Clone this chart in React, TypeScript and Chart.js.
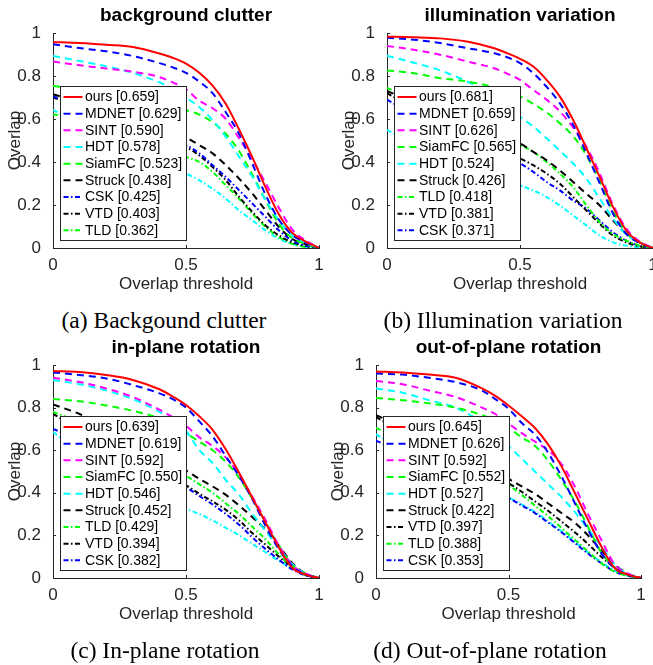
import React, { useEffect, useRef } from 'react';
import { Chart, registerables } from 'chart.js';

Chart.register(...registerables);

// ---------- shared axes ----------
const THRESHOLDS = [0, 0.1, 0.2, 0.3, 0.4, 0.45, 0.5, 0.55, 0.6, 0.65, 0.7, 0.75, 0.8, 0.85, 0.9, 0.95, 1];
const X_TICKS = [0, 0.5, 1];
const X_TICK_LABELS = ['0', '0.5', '1'];
const Y_TICKS = [0, 0.2, 0.4, 0.6, 0.8, 1];
const Y_TICK_LABELS = ['0', '0.2', '0.4', '0.6', '0.8', '1'];
const X_TITLE = 'Overlap threshold';
const Y_TITLE = 'Overlap';

// ---------- (a) background clutter ----------
const BC_TITLE = 'background clutter';
const BC_CAPTION = '(a) Backgound clutter';
const BC_TRACKERS = ['ours', 'MDNET', 'SINT', 'HDT', 'SiamFC', 'Struck', 'CSK', 'VTD', 'TLD'];
const BC_SCORES = [0.659, 0.629, 0.59, 0.578, 0.523, 0.438, 0.425, 0.403, 0.362];
const BC_OURS = [0.958, 0.953, 0.945, 0.935, 0.905, 0.885, 0.858, 0.815, 0.755, 0.67, 0.55, 0.42, 0.28, 0.155, 0.07, 0.03, 0];
const BC_MDNET = [0.948, 0.93, 0.915, 0.893, 0.86, 0.84, 0.815, 0.774, 0.72, 0.63, 0.53, 0.39, 0.245, 0.13, 0.06, 0.025, 0];
const BC_SINT = [0.868, 0.85, 0.835, 0.82, 0.795, 0.77, 0.738, 0.685, 0.65, 0.6, 0.51, 0.41, 0.3, 0.185, 0.085, 0.035, 0];
const BC_HDT = [0.893, 0.87, 0.845, 0.815, 0.77, 0.74, 0.7, 0.655, 0.595, 0.517, 0.424, 0.33, 0.221, 0.128, 0.058, 0.026, 0];
const BC_SIAMFC = [0.754, 0.74, 0.725, 0.71, 0.685, 0.665, 0.642, 0.62, 0.585, 0.53, 0.45, 0.34, 0.22, 0.11, 0.045, 0.02, 0];
const BC_STRUCK = [0.715, 0.68, 0.645, 0.6, 0.555, 0.535, 0.514, 0.478, 0.44, 0.385, 0.322, 0.252, 0.174, 0.097, 0.042, 0.019, 0];
const BC_CSK = [0.705, 0.665, 0.62, 0.575, 0.525, 0.5, 0.478, 0.44, 0.385, 0.33, 0.268, 0.206, 0.143, 0.081, 0.034, 0.011, 0];
const BC_VTD = [0.7, 0.66, 0.615, 0.565, 0.52, 0.495, 0.47, 0.43, 0.377, 0.315, 0.237, 0.167, 0.104, 0.058, 0.026, 0.01, 0];
const BC_TLD = [0.622, 0.6, 0.56, 0.52, 0.47, 0.447, 0.424, 0.4, 0.354, 0.291, 0.229, 0.159, 0.097, 0.05, 0.019, 0.005, 0];
const BC_OTHER = [0.642, 0.58, 0.51, 0.44, 0.39, 0.368, 0.346, 0.315, 0.276, 0.229, 0.174, 0.128, 0.081, 0.042, 0.019, 0.005, 0];

// ---------- (b) illumination variation ----------
const IV_TITLE = 'illumination variation';
const IV_CAPTION = '(b) Illumination variation';
const IV_TRACKERS = ['ours', 'MDNET', 'SINT', 'SiamFC', 'HDT', 'Struck', 'TLD', 'VTD', 'CSK'];
const IV_SCORES = [0.681, 0.659, 0.626, 0.565, 0.524, 0.426, 0.418, 0.381, 0.371];
const IV_OURS = [0.983, 0.98, 0.975, 0.96, 0.93, 0.907, 0.88, 0.844, 0.782, 0.704, 0.595, 0.463, 0.33, 0.19, 0.081, 0.026, 0];
const IV_MDNET = [0.978, 0.969, 0.953, 0.93, 0.907, 0.888, 0.86, 0.813, 0.75, 0.673, 0.572, 0.44, 0.3, 0.159, 0.065, 0.023, 0];
const IV_SINT = [0.94, 0.922, 0.899, 0.868, 0.837, 0.812, 0.782, 0.735, 0.69, 0.635, 0.56, 0.47, 0.345, 0.2, 0.09, 0.03, 0];
const IV_SIAMFC = [0.826, 0.813, 0.79, 0.775, 0.748, 0.728, 0.705, 0.67, 0.63, 0.58, 0.52, 0.43, 0.31, 0.17, 0.07, 0.025, 0];
const IV_HDT = [0.894, 0.862, 0.826, 0.775, 0.71, 0.66, 0.61, 0.565, 0.51, 0.452, 0.393, 0.322, 0.229, 0.136, 0.062, 0.026, 0];
const IV_STRUCK = [0.73, 0.68, 0.63, 0.58, 0.53, 0.508, 0.486, 0.447, 0.408, 0.361, 0.307, 0.252, 0.198, 0.128, 0.065, 0.026, 0];
const IV_TLD = [0.745, 0.69, 0.635, 0.58, 0.53, 0.505, 0.48, 0.447, 0.4, 0.346, 0.283, 0.198, 0.12, 0.065, 0.034, 0.011, 0];
const IV_VTD = [0.72, 0.65, 0.58, 0.52, 0.46, 0.438, 0.416, 0.385, 0.346, 0.299, 0.237, 0.174, 0.112, 0.058, 0.026, 0.008, 0];
const IV_CSK = [0.69, 0.62, 0.55, 0.49, 0.44, 0.415, 0.393, 0.354, 0.307, 0.268, 0.221, 0.182, 0.128, 0.073, 0.034, 0.01, 0];
const IV_OTHER = [0.55, 0.48, 0.42, 0.37, 0.33, 0.31, 0.291, 0.268, 0.237, 0.198, 0.151, 0.104, 0.058, 0.026, 0.011, 0.003, 0];

// ---------- (c) in-plane rotation ----------
const IPR_TITLE = 'in-plane rotation';
const IPR_CAPTION = '(c) In-plane rotation';
const IPR_TRACKERS = ['ours', 'MDNET', 'SINT', 'SiamFC', 'HDT', 'Struck', 'TLD', 'VTD', 'CSK'];
const IPR_SCORES = [0.639, 0.619, 0.592, 0.55, 0.546, 0.452, 0.429, 0.394, 0.382];
const IPR_OURS = [0.972, 0.967, 0.953, 0.93, 0.886, 0.852, 0.812, 0.759, 0.696, 0.603, 0.493, 0.376, 0.258, 0.141, 0.047, 0.016, 0];
const IPR_MDNET = [0.965, 0.953, 0.937, 0.906, 0.867, 0.84, 0.8, 0.735, 0.665, 0.571, 0.477, 0.368, 0.243, 0.133, 0.055, 0.016, 0];
const IPR_SINT = [0.94, 0.92, 0.89, 0.85, 0.79, 0.755, 0.715, 0.66, 0.62, 0.565, 0.485, 0.38, 0.27, 0.15, 0.06, 0.02, 0];
const IPR_SIAMFC = [0.84, 0.83, 0.81, 0.785, 0.75, 0.72, 0.68, 0.64, 0.6, 0.545, 0.47, 0.37, 0.26, 0.15, 0.06, 0.02, 0];
const IPR_HDT = [0.93, 0.91, 0.88, 0.84, 0.78, 0.74, 0.69, 0.6, 0.54, 0.46, 0.39, 0.3, 0.22, 0.14, 0.065, 0.02, 0];
const IPR_STRUCK = [0.815, 0.77, 0.71, 0.64, 0.57, 0.535, 0.505, 0.465, 0.43, 0.39, 0.34, 0.285, 0.225, 0.15, 0.07, 0.02, 0];
const IPR_TLD = [0.78, 0.73, 0.67, 0.6, 0.53, 0.505, 0.48, 0.44, 0.4, 0.35, 0.3, 0.24, 0.18, 0.11, 0.05, 0.015, 0];
const IPR_VTD = [0.77, 0.7, 0.63, 0.56, 0.49, 0.46, 0.435, 0.395, 0.36, 0.32, 0.27, 0.21, 0.155, 0.1, 0.05, 0.015, 0];
const IPR_CSK = [0.7, 0.65, 0.59, 0.53, 0.47, 0.445, 0.425, 0.385, 0.345, 0.3, 0.25, 0.19, 0.135, 0.085, 0.04, 0.012, 0];
const IPR_OTHER = [0.685, 0.6, 0.52, 0.45, 0.38, 0.35, 0.325, 0.3, 0.27, 0.235, 0.2, 0.16, 0.12, 0.08, 0.045, 0.015, 0];

// ---------- (d) out-of-plane rotation ----------
const OPR_TITLE = 'out-of-plane rotation';
const OPR_CAPTION = '(d) Out-of-plane rotation';
const OPR_TRACKERS = ['ours', 'MDNET', 'SINT', 'SiamFC', 'HDT', 'Struck', 'VTD', 'TLD', 'CSK'];
const OPR_SCORES = [0.645, 0.626, 0.592, 0.552, 0.527, 0.422, 0.397, 0.388, 0.353];
const OPR_OURS = [0.97, 0.965, 0.955, 0.94, 0.89, 0.855, 0.81, 0.759, 0.704, 0.626, 0.524, 0.4, 0.274, 0.149, 0.047, 0.016, 0];
const OPR_MDNET = [0.96, 0.955, 0.94, 0.92, 0.88, 0.84, 0.795, 0.728, 0.673, 0.587, 0.477, 0.352, 0.227, 0.117, 0.047, 0.015, 0];
const OPR_SINT = [0.925, 0.91, 0.88, 0.85, 0.8, 0.77, 0.725, 0.68, 0.64, 0.6, 0.535, 0.43, 0.3, 0.18, 0.065, 0.02, 0];
const OPR_SIAMFC = [0.845, 0.835, 0.82, 0.8, 0.765, 0.74, 0.705, 0.66, 0.62, 0.55, 0.46, 0.36, 0.24, 0.12, 0.05, 0.015, 0];
const OPR_HDT = [0.89, 0.87, 0.835, 0.8, 0.73, 0.68, 0.62, 0.56, 0.5, 0.44, 0.38, 0.31, 0.23, 0.15, 0.065, 0.02, 0];
const OPR_STRUCK = [0.765, 0.71, 0.65, 0.59, 0.53, 0.495, 0.465, 0.43, 0.395, 0.35, 0.305, 0.26, 0.2, 0.13, 0.065, 0.02, 0];
const OPR_VTD = [0.755, 0.69, 0.63, 0.57, 0.5, 0.47, 0.445, 0.405, 0.36, 0.315, 0.265, 0.215, 0.16, 0.1, 0.05, 0.015, 0];
const OPR_TLD = [0.705, 0.65, 0.6, 0.545, 0.49, 0.46, 0.435, 0.39, 0.34, 0.29, 0.235, 0.18, 0.125, 0.07, 0.03, 0.01, 0];
const OPR_CSK = [0.645, 0.59, 0.53, 0.475, 0.42, 0.395, 0.375, 0.34, 0.305, 0.26, 0.215, 0.165, 0.115, 0.07, 0.03, 0.01, 0];
const OPR_OTHER = [0.675, 0.6, 0.53, 0.47, 0.42, 0.398, 0.378, 0.345, 0.31, 0.265, 0.22, 0.17, 0.12, 0.075, 0.035, 0.012, 0];

// ---------- styles ----------
const DASH = [7, 5];
const DASHDOT = [5, 2.5, 1.5, 2.5];
const STYLES: Record<string, { color: string; dash: number[] }> = {
  ours: { color: '#ff0000', dash: [] },
  MDNET: { color: '#0000ff', dash: DASH },
  SINT: { color: '#ff00ff', dash: DASH },
  HDT: { color: '#00ffff', dash: DASH },
  SiamFC: { color: '#00ff00', dash: DASH },
  Struck: { color: '#000000', dash: DASH },
  CSK: { color: '#0000ff', dash: DASHDOT },
  VTD: { color: '#000000', dash: DASHDOT },
  TLD: { color: '#00ff00', dash: DASHDOT },
  other: { color: '#00ffff', dash: DASHDOT },
};

const SANS = '"Liberation Sans", Arial, Helvetica, sans-serif';
const SERIF = '"Liberation Serif", "Times New Roman", serif';
const AXIS_COLOR = '#262626';

type PanelCfg = {
  title: string;
  caption: string;
  trackers: string[];
  scores: number[];
  series: Record<string, number[]>;
  caLeft: number;
  caTop: number;
  plotW: number;
  plotH: number;
  capCx: number;
};

const PANELS: PanelCfg[] = [
  {
    title: BC_TITLE, caption: BC_CAPTION, trackers: BC_TRACKERS, scores: BC_SCORES,
    series: { ours: BC_OURS, MDNET: BC_MDNET, SINT: BC_SINT, HDT: BC_HDT, SiamFC: BC_SIAMFC, Struck: BC_STRUCK, CSK: BC_CSK, VTD: BC_VTD, TLD: BC_TLD, other: BC_OTHER },
    caLeft: 53, caTop: 33, plotW: 266, plotH: 215, capCx: 164,
  },
  {
    title: IV_TITLE, caption: IV_CAPTION, trackers: IV_TRACKERS, scores: IV_SCORES,
    series: { ours: IV_OURS, MDNET: IV_MDNET, SINT: IV_SINT, SiamFC: IV_SIAMFC, HDT: IV_HDT, Struck: IV_STRUCK, TLD: IV_TLD, VTD: IV_VTD, CSK: IV_CSK, other: IV_OTHER },
    caLeft: 387, caTop: 33, plotW: 266, plotH: 215, capCx: 503,
  },
  {
    title: IPR_TITLE, caption: IPR_CAPTION, trackers: IPR_TRACKERS, scores: IPR_SCORES,
    series: { ours: IPR_OURS, MDNET: IPR_MDNET, SINT: IPR_SINT, SiamFC: IPR_SIAMFC, HDT: IPR_HDT, Struck: IPR_STRUCK, TLD: IPR_TLD, VTD: IPR_VTD, CSK: IPR_CSK, other: IPR_OTHER },
    caLeft: 53, caTop: 365, plotW: 266, plotH: 213, capCx: 165,
  },
  {
    title: OPR_TITLE, caption: OPR_CAPTION, trackers: OPR_TRACKERS, scores: OPR_SCORES,
    series: { ours: OPR_OURS, MDNET: OPR_MDNET, SINT: OPR_SINT, SiamFC: OPR_SIAMFC, HDT: OPR_HDT, Struck: OPR_STRUCK, VTD: OPR_VTD, TLD: OPR_TLD, CSK: OPR_CSK, other: OPR_OTHER },
    caLeft: 376, caTop: 365, plotW: 265, plotH: 213, capCx: 490,
  },
];

const Y_AXIS_W = 53;
const X_AXIS_H = 52;
const PAD_TOP = 33;
const PAD_RIGHT = 20;

const legendBoxPlugin = {
  id: 'legendBox',
  afterDatasetsDraw(chart: any) {
    const { ctx, chartArea } = chart;
    const items = chart.data.datasets.filter((d: any) => d.inLegend !== false);
    const bx = Math.round(chartArea.left + 7) + 0.5;
    const bw = 126;
    const bh = 154;
    const by = Math.round(chartArea.bottom - 8 - bh) + 0.5;
    ctx.save();
    ctx.fillStyle = '#ffffff';
    ctx.fillRect(bx, by, bw, bh);
    ctx.strokeStyle = AXIS_COLOR;
    ctx.lineWidth = 1;
    ctx.setLineDash([]);
    ctx.strokeRect(bx, by, bw, bh);
    const rowH = 16.67;
    items.forEach((d: any, i: number) => {
      const cy = by + 10.5 + i * rowH;
      ctx.beginPath();
      ctx.strokeStyle = d.borderColor;
      ctx.lineWidth = 2;
      ctx.setLineDash(d.borderDash || []);
      ctx.moveTo(bx + 3, cy);
      ctx.lineTo(bx + 22, cy);
      ctx.stroke();
      ctx.setLineDash([]);
      ctx.fillStyle = '#000000';
      ctx.font = `14px ${SANS}`;
      ctx.textAlign = 'left';
      ctx.textBaseline = 'middle';
      ctx.fillText(d.label, bx + 24.5, cy + 0.5);
    });
    ctx.restore();
  },
};

const innerTicksPlugin = {
  id: 'innerTicks',
  afterDatasetsDraw(chart: any) {
    const { ctx, chartArea, scales } = chart;
    ctx.save();
    ctx.strokeStyle = AXIS_COLOR;
    ctx.lineWidth = 1;
    ctx.setLineDash([]);
    ctx.beginPath();
    Y_TICKS.forEach((v) => {
      const y = Math.round(scales.y.getPixelForValue(v)) + 0.5;
      ctx.moveTo(chartArea.left, y);
      ctx.lineTo(chartArea.left + 3, y);
    });
    X_TICKS.forEach((v) => {
      const x = Math.round(scales.x.getPixelForValue(v)) + 0.5;
      ctx.moveTo(x, chartArea.bottom);
      ctx.lineTo(x, chartArea.bottom - 3);
    });
    ctx.stroke();
    ctx.restore();
  },
};

function Panel({ cfg }: { cfg: PanelCfg }) {
  const ref = useRef<HTMLCanvasElement>(null);
  const cw = Y_AXIS_W + cfg.plotW + PAD_RIGHT;
  const ch = PAD_TOP + cfg.plotH + X_AXIS_H;

  useEffect(() => {
    if (!ref.current) return;
    const names = [...cfg.trackers, 'other'];
    const datasets = names.map((name) => {
      const idx = cfg.trackers.indexOf(name);
      const st = STYLES[name];
      return {
        label: idx >= 0 ? `${name} [${cfg.scores[idx].toFixed(3)}]` : name,
        inLegend: idx >= 0,
        data: THRESHOLDS.map((x, i) => ({ x, y: cfg.series[name][i] })),
        borderColor: st.color,
        backgroundColor: st.color,
        borderDash: st.dash,
        borderWidth: 2,
        pointRadius: 0,
        fill: false,
        cubicInterpolationMode: 'monotone',
      };
    });
    const chart = new Chart(ref.current, {
      type: 'line',
      data: { datasets } as any,
      options: {
        responsive: false,
        animation: false,
        devicePixelRatio: 1,
        layout: { padding: { left: 0, top: PAD_TOP, right: PAD_RIGHT, bottom: 0 } },
        plugins: { legend: { display: false }, tooltip: { enabled: false }, title: { display: false } },
        scales: {
          x: {
            type: 'linear',
            min: 0,
            max: 1,
            afterBuildTicks: (s: any) => { s.ticks = X_TICKS.map((value) => ({ value })); },
            afterFit: (s: any) => { s.height = X_AXIS_H; },
            grid: { display: false },
            border: { display: true, color: AXIS_COLOR, width: 1 },
            ticks: {
              color: AXIS_COLOR,
              padding: -1,
              maxRotation: 0,
              font: { family: SANS, size: 17 },
              callback: (_v: any, i: number) => X_TICK_LABELS[i],
            },
            title: {
              display: true,
              text: X_TITLE,
              color: AXIS_COLOR,
              font: { family: SANS, size: 17 },
              padding: { top: 0, bottom: 5 },
            },
          },
          y: {
            type: 'linear',
            min: 0,
            max: 1,
            afterBuildTicks: (s: any) => { s.ticks = Y_TICKS.map((value) => ({ value })); },
            afterFit: (s: any) => { s.width = Y_AXIS_W; },
            grid: { display: false },
            border: { display: true, color: AXIS_COLOR, width: 1 },
            ticks: {
              color: AXIS_COLOR,
              padding: 4,
              font: { family: SANS, size: 17 },
              callback: (_v: any, i: number) => Y_TICK_LABELS[i],
            },
            title: {
              display: true,
              text: Y_TITLE,
              color: AXIS_COLOR,
              font: { family: SANS, size: 17 },
              padding: { top: 5, bottom: 0 },
            },
          },
        },
      } as any,
      plugins: [innerTicksPlugin, legendBoxPlugin],
    });
    return () => chart.destroy();
  }, [cfg]);

  return (
    <>
      <canvas
        ref={ref}
        width={cw}
        height={ch}
        style={{ position: 'absolute', left: cfg.caLeft - Y_AXIS_W, top: cfg.caTop - PAD_TOP, width: cw, height: ch }}
      />
      <div
        style={{
          position: 'absolute',
          left: cfg.caLeft - 20,
          width: cfg.plotW + 40,
          top: cfg.caTop - 29,
          lineHeight: '22px',
          fontFamily: SANS,
          fontWeight: 'bold',
          fontSize: 19,
          color: '#000',
          textAlign: 'center',
          whiteSpace: 'nowrap',
        }}
      >
        {cfg.title}
      </div>
      <div
        style={{
          position: 'absolute',
          left: cfg.capCx - 170,
          width: 340,
          top: cfg.caTop + cfg.plotH + 59,
          lineHeight: '26px',
          fontFamily: SERIF,
          fontSize: 23.5,
          color: '#000',
          textAlign: 'center',
          whiteSpace: 'nowrap',
        }}
      >
        {cfg.caption}
      </div>
    </>
  );
}

export default function App() {
  return (
    <div
      style={{
        position: 'absolute',
        left: 0,
        top: 0,
        width: 653,
        height: 665,
        overflow: 'hidden',
        background: '#ffffff',
      }}
    >
      {PANELS.map((p) => (
        <Panel key={p.title} cfg={p} />
      ))}
    </div>
  );
}
